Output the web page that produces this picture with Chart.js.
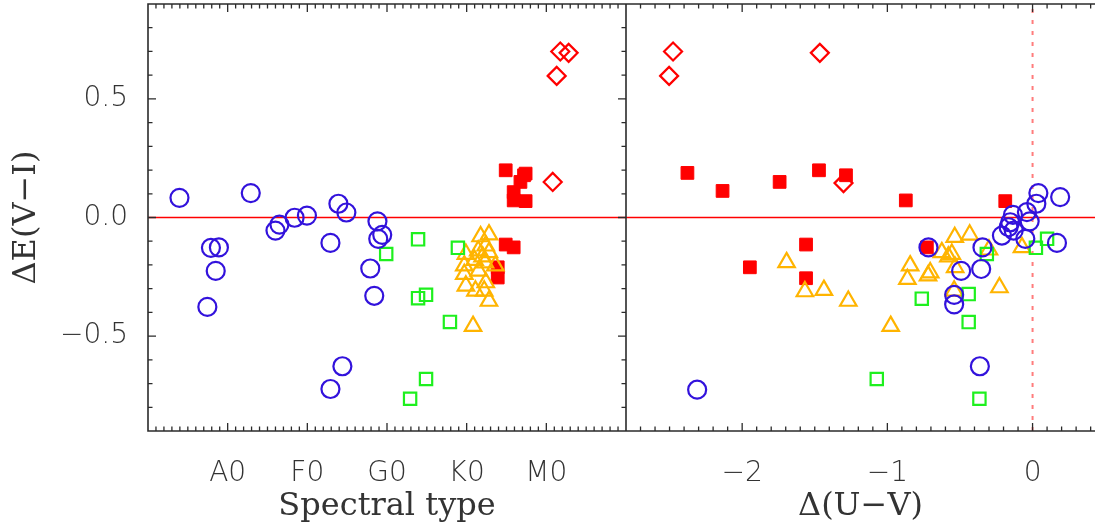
<!DOCTYPE html>
<html>
<head>
<meta charset="utf-8">
<script src="https://cdn.jsdelivr.net/npm/chart.js@4.4.1/dist/chart.umd.min.js"></script>
<style>
  html, body { margin: 0; padding: 0; background: #fff; overflow: hidden; }
  #wrap { position: relative; width: 1095px; height: 529px; }
</style>
</head>
<body>
<div id="wrap"><canvas id="myChart"></canvas></div>
<script>
// spectral type axis: B0=10, A0=20, F0=30, G0=40, K0=50, M0=60
var spTicks = [20, 30, 40, 50, 60];
var spLabels = ['A0', 'F0', 'G0', 'K0', 'M0'];
var uvTicks = [-2, -1, 0];
var deTicks = [-0.5, 0, 0.5];

// left panel: spectral type vs dE(V-I)
var leftCircleSpT = [13.95, 22.9, 17.9, 18.9, 18.5, 17.45, 26.0, 26.5, 28.4, 29.95, 33.9, 34.9, 32.9, 38.8, 39.4, 38.9, 37.9, 38.4, 32.9, 34.4];
var leftCircleDE  = [0.083, 0.103, -0.128, -0.126, -0.225, -0.377, -0.055, -0.030, -0.001, 0.008, 0.058, 0.021, -0.107, -0.016, -0.073, -0.09, -0.215, -0.33, -0.723, -0.627];
var leftSquareSpT = [39.9, 43.9, 48.9, 43.9, 44.9, 47.9, 44.9, 42.9];
var leftSquareDE  = [-0.154, -0.092, -0.128, -0.34, -0.326, -0.44, -0.681, -0.764];
var leftTriSpT = [52.8, 51.75, 52.4, 51.45, 49.9, 52.8, 52.0, 51.0, 53.6, 49.7, 51.5, 49.7, 52.4, 49.9, 51.1, 52.2, 52.8, 50.8, 52.3];
var leftTriDE  = [-0.072, -0.08, -0.119, -0.14, -0.154, -0.147, -0.165, -0.18, -0.203, -0.203, -0.225, -0.239, -0.274, -0.288, -0.309, -0.309, -0.352, -0.458, -0.19];
var leftFilledSpT = [54.9, 57.4, 57.2, 56.75, 55.9, 55.9, 57.4, 54.9, 55.9, 53.9, 53.9];
var leftFilledDE  = [0.199, 0.185, 0.178, 0.15, 0.107, 0.072, 0.069, -0.114, -0.126, -0.21, -0.253];
var leftDiamondSpT = [61.75, 62.8, 61.3, 60.8];
var leftDiamondDE  = [0.70, 0.694, 0.597, 0.15];

// right panel: d(U-V) vs dE(V-I)
var rightCircleUV = [0.04, 0.19, 0.026, -0.039, -0.135, -0.02, -0.154, -0.165, -0.13, -0.211, -0.05, 0.168, -0.345, -0.717, -0.354, -0.492, -0.54, -0.54, -0.363, -2.31];
var rightCircleDE = [0.103, 0.086, 0.058, 0.023, 0.011, -0.016, -0.02, -0.041, -0.055, -0.076, -0.09, -0.107, -0.126, -0.126, -0.217, -0.225, -0.326, -0.366, -0.627, -0.726];
var rightSquareUV = [-0.315, 0.023, 0.10, -0.763, -0.44, -0.44, -1.073, -0.366];
var rightSquareDE = [-0.154, -0.128, -0.09, -0.342, -0.323, -0.441, -0.681, -0.764];
var rightTriUV = [-0.536, -0.433, -0.625, -0.556, -0.58, -0.533, -0.843, -0.862, -0.705, -0.72, -0.30, -0.073, -0.228, -0.54, -1.694, -1.568, -1.437, -1.269, -0.977];
var rightTriDE = [-0.083, -0.073, -0.147, -0.154, -0.165, -0.21, -0.203, -0.26, -0.232, -0.245, -0.136, -0.126, -0.295, -0.309, -0.189, -0.312, -0.306, -0.352, -0.458];
var rightFilledUV = [-2.377, -2.135, -1.742, -1.471, -1.285, -0.873, -0.188, -1.56, -0.728, -1.947, -1.56];
var rightFilledDE = [0.188, 0.112, 0.15, 0.199, 0.178, 0.072, 0.069, -0.114, -0.126, -0.21, -0.256];
var rightDiamondUV = [-2.476, -2.503, -1.465, -1.302];
var rightDiamondDE = [0.70, 0.597, 0.694, 0.145];

var BLUE = '#3212dc', GREEN = '#1ef01e', ORANGE = '#ffb400', RED = '#ff0000';

function pts(xs, ys) {
    return xs.map(function (v, i) { return {x: v, y: ys[i]}; });
}

function marks(xs, ys, axis, style, color, radius, filled) {
    return {
        data: pts(xs, ys),
        xAxisID: axis,
        pointStyle: style,
        pointRadius: radius,
        pointBorderWidth: filled ? 1 : 2.2,
        pointBorderColor: color,
        pointBackgroundColor: filled ? color : 'rgba(0,0,0,0)',
        showLine: false
    };
}

function minusFmt(v, digits) {
    return (v < 0 ? '\u2212' : '') + Math.abs(v).toFixed(digits);
}

// keep the plot box fixed: no extra room for half-labels at the ends
function noPad(s) {
    s.paddingLeft = 0; s.paddingRight = 0; s.paddingTop = 0; s.paddingBottom = 0;
}

var tickFont = {family: '"DejaVu Sans ExtraLight", "DejaVu Sans", sans-serif', weight: 200, size: 28};
var titleFont = {family: '"DejaVu Serif", serif', size: 32};

// frame, divider and inward ticks (major + minor) for both panels
var frameTicks = {
    id: 'frameTicks',
    afterDatasetsDraw: function (chart) {
        var ctx = chart.ctx, a = chart.chartArea;
        var x = chart.scales.x, x2 = chart.scales.x2, y = chart.scales.y;
        ctx.save();
        ctx.strokeStyle = '#2b2b2b';
        ctx.lineWidth = 1.6;
        ctx.beginPath();
        ctx.moveTo(a.right, a.top); ctx.lineTo(a.left, a.top);
        ctx.lineTo(a.left, a.bottom); ctx.lineTo(a.right, a.bottom);
        ctx.moveTo(x.right, a.top); ctx.lineTo(x.right, a.bottom);
        ctx.stroke();

        ctx.lineWidth = 1.3;
        ctx.beginPath();
        function vTick(px, len) {
            ctx.moveTo(px, a.top); ctx.lineTo(px, a.top + len);
            ctx.moveTo(px, a.bottom); ctx.lineTo(px, a.bottom - len);
        }
        function hTick(py, len) {
            ctx.moveTo(a.left, py); ctx.lineTo(a.left + len, py);
            ctx.moveTo(x.right, py); ctx.lineTo(x.right - len, py);
        }
        for (var s = 11; s < 70; s++) {
            vTick(x.getPixelForValue(s), s % 10 === 0 ? 8 : 4.5);
        }
        for (var i = -27; i <= 4; i++) {
            vTick(x2.getPixelForValue(i / 10), i % 10 === 0 ? 8 : 4.5);
        }
        for (var j = -8; j <= 8; j++) {
            hTick(y.getPixelForValue(j / 10), j % 5 === 0 ? 8 : 4.5);
        }
        ctx.stroke();
        ctx.restore();
    }
};

var ctx = document.getElementById('myChart');

var myChart = new Chart(ctx, {
    type: 'scatter',
    data: {
        datasets: [
            marks(leftCircleSpT, leftCircleDE, 'x', 'circle', BLUE, 9, false),
            marks(rightCircleUV, rightCircleDE, 'x2', 'circle', BLUE, 9, false),
            marks(leftSquareSpT, leftSquareDE, 'x', 'rect', GREEN, 8.7, false),
            marks(rightSquareUV, rightSquareDE, 'x2', 'rect', GREEN, 8.7, false),
            marks(leftTriSpT, leftTriDE, 'x', 'triangle', ORANGE, 9.5, false),
            marks(rightTriUV, rightTriDE, 'x2', 'triangle', ORANGE, 9.5, false),
            marks(leftDiamondSpT, leftDiamondDE, 'x', 'rectRot', RED, 9, false),
            marks(rightDiamondUV, rightDiamondDE, 'x2', 'rectRot', RED, 9, false),
            marks(leftFilledSpT, leftFilledDE, 'x', 'rect', RED, 9, true),
            marks(rightFilledUV, rightFilledDE, 'x2', 'rect', RED, 9, true),
            // zero lines
            {data: [{x: 10, y: 0}, {x: 70, y: 0}], xAxisID: 'x', showLine: true, pointRadius: 0,
             borderColor: '#ff0000', borderWidth: 1.3, order: 10},
            {data: [{x: -2.8, y: 0}, {x: 0.43, y: 0}], xAxisID: 'x2', showLine: true, pointRadius: 0,
             borderColor: '#ff0000', borderWidth: 1.3, order: 10},
            {data: [{x: 0, y: -0.9}, {x: 0, y: 0.9}], xAxisID: 'x2', showLine: true, pointRadius: 0,
             borderColor: 'rgba(255,110,110,0.9)', borderWidth: 2, borderDash: [4, 7], order: 10}
        ]
    },
    options: {
        responsive: true,
        maintainAspectRatio: false,
        animation: false,
        layout: {autoPadding: false, padding: {top: 4, right: 0, bottom: 0, left: 0}},
        plugins: {legend: {display: false}, tooltip: {enabled: false}},
        scales: {
            x: {
                type: 'linear', position: 'bottom', stack: 'panels', stackWeight: 478,
                min: 10, max: 70,
                grid: {display: false}, border: {display: false},
                afterBuildTicks: function (s) { s.ticks = spTicks.map(function (v) { return {value: v}; }); },
                afterFit: function (s) { s.height = 98; noPad(s); },
                ticks: {
                    font: tickFont, color: '#333', padding: 18, maxRotation: 0, autoSkip: false,
                    callback: function (v) { return spLabels[spTicks.indexOf(v)]; }
                },
                title: {display: true, text: 'Spectral type', font: titleFont, color: '#333', padding: {top: 0, bottom: 3}}
            },
            x2: {
                type: 'linear', position: 'bottom', stack: 'panels', stackWeight: 469,
                min: -2.8, max: 0.43,
                grid: {display: false}, border: {display: false},
                afterBuildTicks: function (s) { s.ticks = uvTicks.map(function (v) { return {value: v}; }); },
                afterFit: function (s) { s.height = 98; noPad(s); },
                ticks: {
                    font: tickFont, color: '#333', padding: 18, maxRotation: 0, autoSkip: false,
                    callback: function (v) { return minusFmt(v, 0); }
                },
                title: {display: true, text: '\u0394(U\u2212V)', font: titleFont, color: '#333', padding: {top: 0, bottom: 3}}
            },
            y: {
                type: 'linear', position: 'left',
                min: -0.9, max: 0.9,
                grid: {display: false}, border: {display: false},
                afterBuildTicks: function (s) { s.ticks = deTicks.map(function (v) { return {value: v}; }); },
                afterFit: function (s) { s.width = 148; noPad(s); },
                ticks: {
                    font: tickFont, color: '#333', padding: 12,
                    callback: function (v) { return minusFmt(v, 1); }
                },
                title: {display: true, text: '\u0394E(V\u2212I)', font: titleFont, color: '#333', padding: {top: 7, bottom: 0}}
            }
        }
    },
    plugins: [frameTicks]
});
</script>
</body>
</html>
